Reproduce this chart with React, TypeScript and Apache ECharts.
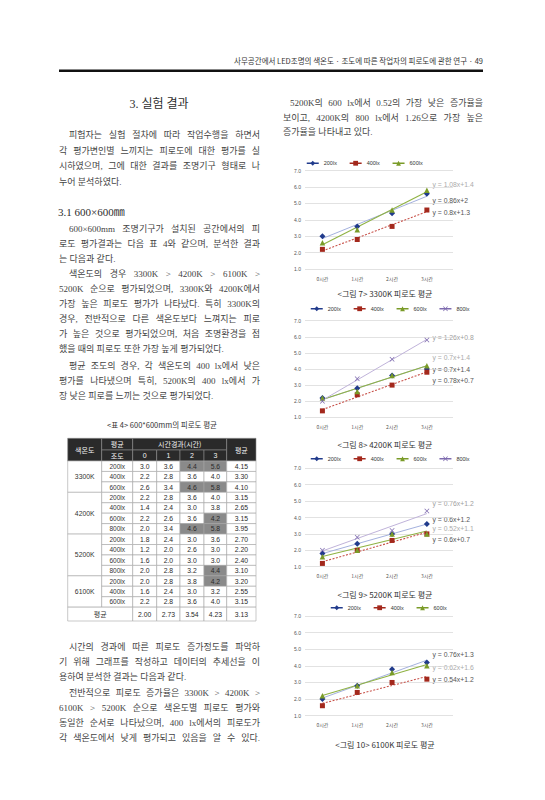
import React, { useEffect, useRef } from "react";
import * as echarts from "echarts";

// ---------------- data ----------------
const hours = ["0시간", "1시간", "2시간", "3시간"];

// <그림 7> 3300K
const k3300Lux = ["200lx", "400lx", "600lx"];
const k3300_200 = [3.0, 3.6, 4.4, 5.6];
const k3300_400 = [2.2, 2.8, 3.6, 4.6];
const k3300_600 = [2.6, 3.4, 4.6, 5.8];
const trend3300Slope = [0.86, 0.8, 1.08];
const trend3300Icpt = [2, 1.3, 1.4];

// <그림 8> 4200K
const k4200Lux = ["200lx", "400lx", "600lx", "800lx"];
const k4200_200 = [2.2, 2.8, 3.6, 4.0];
const k4200_400 = [1.4, 2.4, 3.0, 3.8];
const k4200_600 = [2.2, 2.6, 3.6, 4.2];
const k4200_800 = [2.0, 3.4, 4.6, 5.8];
const trend4200Slope = [0.7, 0.78, 0.7, 1.26];
const trend4200Icpt = [1.4, 0.7, 1.4, 0.8];

// <그림 9> 5200K
const k5200Lux = ["200lx", "400lx", "600lx", "800lx"];
const k5200_200 = [1.8, 2.4, 3.0, 3.6];
const k5200_400 = [1.2, 2.0, 2.6, 3.0];
const k5200_600 = [1.6, 2.0, 3.0, 3.0];
const k5200_800 = [2.0, 2.8, 3.2, 4.4];
const trend5200Slope = [0.6, 0.6, 0.52, 0.76];
const trend5200Icpt = [1.2, 0.7, 1.1, 1.2];

// <그림 10> 6100K
const k6100Lux = ["200lx", "400lx", "600lx"];
const k6100_200 = [2.0, 2.8, 3.8, 4.2];
const k6100_400 = [1.6, 2.4, 3.0, 3.2];
const k6100_600 = [2.2, 2.8, 3.6, 4.0];
const trend6100Slope = [0.76, 0.54, 0.62];
const trend6100Icpt = [1.3, 1.2, 1.6];

const captions = [
  "<그림 7> 3300K 피로도 평균",
  "<그림 8> 4200K 피로도 평균",
  "<그림 9> 5200K 피로도 평균",
  "<그림 10> 6100K 피로도 평균",
];
// order (top to bottom) of the trend equations printed at the right of each chart
const trendLabelOrder = [[2, 0, 1], [3, 2, 0, 1], [3, 0, 2, 1], [0, 2, 1]];

// <표 4>
const colorTemps = ["3300K", "4200K", "5200K", "6100K"];
const tableLux3300 = ["200lx", "400lx", "600lx"];
const tableLux4200 = ["200lx", "400lx", "600lx", "800lx"];
const tableLux5200 = ["200lx", "400lx", "600lx", "800lx"];
const tableLux6100 = ["200lx", "400lx", "600lx"];
const table3300 = [[3.0, 3.6, 4.4, 5.6, 4.15], [2.2, 2.8, 3.6, 4.0, 3.3], [2.6, 3.4, 4.6, 5.8, 4.1]];
const table4200 = [[2.2, 2.8, 3.6, 4.0, 3.15], [1.4, 2.4, 3.0, 3.8, 2.65], [2.2, 2.6, 3.6, 4.2, 3.15], [2.0, 3.4, 4.6, 5.8, 3.95]];
const table5200 = [[1.8, 2.4, 3.0, 3.6, 2.7], [1.2, 2.0, 2.6, 3.0, 2.2], [1.6, 2.0, 3.0, 3.0, 2.4], [2.0, 2.8, 3.2, 4.4, 3.1]];
const table6100 = [[2.0, 2.8, 3.8, 4.2, 3.2], [1.6, 2.4, 3.0, 3.2, 2.55], [2.2, 2.8, 3.6, 4.0, 3.15]];
const tableTotal = [2.0, 2.73, 3.54, 4.23, 3.13];
const tableShaded = ["0-0-2", "0-0-3", "0-2-2", "0-2-3", "1-2-3", "1-3-2", "1-3-3", "2-3-3", "3-0-3"];
const timeHeads = ["0", "1", "2", "3"];
const tableCaption = "<표 4> 600*600mm의 피로도 평균";

// page text
const headerText = "사무공간에서 LED조명의 색온도 · 조도에 따른 작업자의 피로도에 관한 연구 · 49";
const sectionTitle = "3. 실험 결과";
const introLines = [
  "피험자는 실험 절차에 따라 작업수행을 하면서",
  "각 평가변인별 느끼지는 피로도에 대한 평가를 실",
  "시하였으며, 그에 대한 결과를 조명기구 형태로 나",
  "누어 분석하였다.",
];
const subTitle = "3.1 600×600㎜";
const para2Lines = [
  "600×600mm 조명기구가 설치된 공간에서의 피",
  "로도 평가결과는 다음 표 4와 같으며, 분석한 결과",
  "는 다음과 같다.",
];
const para3Lines = [
  "색온도의 경우 3300K > 4200K > 6100K >",
  "5200K 순으로 평가되었으며, 3300K와 4200K에서",
  "가장 높은 피로도 평가가 나타났다. 특히 3300K의",
  "경우, 전반적으로 다른 색온도보다 느껴지는 피로",
  "가 높은 것으로 평가되었으며, 처음 조명환경을 접",
  "했을 때의 피로도 또한 가장 높게 평가되었다.",
];
const para4Lines = [
  "평균 조도의 경우, 각 색온도의 400 lx에서 낮은",
  "평가를 나타냈으며 특히, 5200K의 400 lx에서 가",
  "장 낮은 피로를 느끼는 것으로 평가되었다.",
];
const para5Lines = [
  "시간의 경과에 따른 피로도 증가정도를 파악하",
  "기 위해 그래프를 작성하고 데이터의 추세선을 이",
  "용하여 분석한 결과는 다음과 같다.",
];
const para6Lines = [
  "전반적으로 피로도 증가율은 3300K > 4200K >",
  "6100K > 5200K 순으로 색온도별 피로도 평가와",
  "동일한 순서로 나타났으며, 400 lx에서의 피로도가",
  "각 색온도에서 낮게 평가되고 있음을 알 수 있다.",
];
const rightLines = [
  "5200K의 600 lx에서 0.52의 가장 낮은 증가율을",
  "보이고, 4200K의 800 lx에서 1.26으로 가장 높은",
  "증가율을 나타내고 있다.",
];

// ---------------- styles / layout ----------------
const SERIF = '"Liberation Serif", "Noto Sans CJK KR", serif';
const SANS = '"Liberation Sans", "Noto Sans CJK KR", sans-serif';
const CJK = '"Noto Sans CJK KR", "Liberation Sans", sans-serif';
const BODY = "#444444";

const xSymbol = "path://M1,0L5,4L9,0L10,1L6,5L10,9L9,10L5,6L1,10L0,9L4,5L0,1Z";
const luxStyle: Record<string, any> = {
  "200lx": { color: "#213b8c", symbol: "diamond", size: 6, trend: "#a4b1de", type: "solid", width: 1, label: "#555555" },
  "400lx": { color: "#a3281c", symbol: "rect", size: 5, trend: "#c8524a", type: [2, 1.5], width: 1.1, label: "#555555" },
  "600lx": { color: "#7a9b28", symbol: "triangle", size: 5.5, trend: "#8fb243", type: "solid", width: 1.1, label: "#ababab" },
  "800lx": { color: "#7d6aae", symbol: xSymbol, size: 5, trend: "#c0b3da", type: "solid", width: 1, label: "#a0a0a0" },
};

const chartTops = [170.7, 320.7, 468.3, 616];
const chartHeights = [98.3, 96.6, 98.4, 99.7];
const legendPos = [[306, 160.5], [310, 306], [310, 456], [330, 605]];
const captionY = [293.3, 444, 594, 744];
const trendLabelY = [[184, 200, 212], [337.7, 357.3, 369, 380], [503.3, 519.3, 528.7, 539.3], [654.3, 667.7, 679]];

let measureCtx: CanvasRenderingContext2D | null = null;
function textWidth(s: string, size: number, family: string) {
  if (!measureCtx) measureCtx = document.createElement("canvas").getContext("2d");
  measureCtx!.font = `${size}px ${family}`;
  return measureCtx!.measureText(s).width;
}

function txt(text: string, x: number, y: number, size: number, family: string, fill: string, align = "left", weight: any = "normal") {
  return {
    type: "text",
    x,
    y,
    silent: true,
    style: { text, fontSize: size, fontFamily: family, fill, align, verticalAlign: "middle", fontWeight: weight },
  };
}

function paragraph(lines: string[], x0: number, x1: number, y0: number, lh: number, indent: number, size = 9) {
  const els: any[] = [];
  lines.forEach((line, i) => {
    const y = y0 + i * lh;
    const left = x0 + (i === 0 ? indent : 0);
    const words = line.split(" ");
    const natural = textWidth(line, size, SERIF);
    const isLast = i === lines.length - 1;
    if (words.length < 2 || (isLast && natural < 0.86 * (x1 - left))) {
      els.push(txt(line, left, y, size, SERIF, BODY));
      return;
    }
    const widths = words.map((w) => textWidth(w, size, SERIF));
    const total = widths.reduce((a, b) => a + b, 0);
    const gap = (x1 - left - total) / (words.length - 1);
    let x = left;
    words.forEach((w, j) => {
      els.push(txt(w, x, y, size, SERIF, BODY));
      x += widths[j] + gap;
    });
  });
  return els;
}

function buildTable() {
  const els: any[] = [];
  const colX = [67.7, 101.7, 132.7, 156.7, 180, 204, 226.7, 256];
  const headTop = 438.3, headMid = 450, headBot = 461, rowH = 10.44, footBot = 621;
  const headFill = "#2a2a2a", headStroke = "#8c8c8c", bodyStroke = "#a5a5a5";
  const cell = (x0: number, y0: number, x1: number, y1: number, fill: string, stroke: string) => ({
    type: "rect",
    silent: true,
    shape: { x: x0, y: y0, width: x1 - x0, height: y1 - y0 },
    style: { fill, stroke, lineWidth: 0.6 },
  });
  const center = (s: string, x0: number, y0: number, x1: number, y1: number, fill: string, family: string, size: number) =>
    txt(s, (x0 + x1) / 2, (y0 + y1) / 2, size, family, fill, "center");

  // header
  const hc = "#f2f2f2";
  els.push(cell(colX[0], headTop, colX[1], headBot, headFill, headStroke));
  els.push(center("색온도", colX[0], headTop, colX[1], headBot, hc, CJK, 7));
  els.push(cell(colX[1], headTop, colX[2], headMid, headFill, headStroke));
  els.push(center("평균", colX[1], headTop, colX[2], headMid, hc, CJK, 7));
  els.push(cell(colX[1], headMid, colX[2], headBot, headFill, headStroke));
  els.push(center("조도", colX[1], headMid, colX[2], headBot, hc, CJK, 7));
  els.push(cell(colX[2], headTop, colX[6], headMid, headFill, headStroke));
  els.push(center("시간경과(시간)", colX[2], headTop, colX[6], headMid, hc, CJK, 7));
  timeHeads.forEach((h, j) => {
    els.push(cell(colX[2 + j], headMid, colX[3 + j], headBot, headFill, headStroke));
    els.push(center(h, colX[2 + j], headMid, colX[3 + j], headBot, hc, SANS, 7));
  });
  els.push(cell(colX[6], headTop, colX[7], headBot, headFill, headStroke));
  els.push(center("평균", colX[6], headTop, colX[7], headBot, hc, CJK, 7));

  // body
  const groups = [table3300, table4200, table5200, table6100];
  const groupLux = [tableLux3300, tableLux4200, tableLux5200, tableLux6100];
  let r = 0;
  groups.forEach((rows, g) => {
    const gy0 = headBot + r * rowH;
    const gy1 = gy0 + rows.length * rowH;
    els.push(cell(colX[0], gy0, colX[1], gy1, "#ffffff", bodyStroke));
    els.push(center(colorTemps[g], colX[0], gy0, colX[1], gy1, "#333", SANS, 6.8));
    rows.forEach((vals, k) => {
      const y0 = headBot + (r + k) * rowH;
      const y1 = y0 + rowH;
      els.push(cell(colX[1], y0, colX[2], y1, "#ffffff", bodyStroke));
      els.push(center(groupLux[g][k], colX[1], y0, colX[2], y1, "#333", SANS, 6.5));
      vals.forEach((v, j) => {
        const shaded = tableShaded.indexOf(`${g}-${k}-${j}`) >= 0;
        els.push(cell(colX[2 + j], y0, colX[3 + j], y1, shaded ? "#8a8a8a" : "#ffffff", bodyStroke));
        els.push(center(j < 4 ? v.toFixed(1) : v.toFixed(2), colX[2 + j], y0, colX[3 + j], y1, "#2a2a2a", SANS, 6.8));
      });
    });
    r += rows.length;
  });
  const fy0 = headBot + r * rowH;
  els.push(cell(colX[0], fy0, colX[2], footBot, "#ffffff", bodyStroke));
  els.push(center("평균", colX[0], fy0, colX[2], footBot, "#333", CJK, 7));
  tableTotal.forEach((v, j) => {
    els.push(cell(colX[2 + j], fy0, colX[3 + j], footBot, "#ffffff", bodyStroke));
    els.push(center(v.toFixed(2), colX[2 + j], fy0, colX[3 + j], footBot, "#2a2a2a", SANS, 6.8));
  });
  return els;
}

function buildOption() {
  const chartLux = [k3300Lux, k4200Lux, k5200Lux, k6100Lux];
  const chartValues = [
    [k3300_200, k3300_400, k3300_600],
    [k4200_200, k4200_400, k4200_600, k4200_800],
    [k5200_200, k5200_400, k5200_600, k5200_800],
    [k6100_200, k6100_400, k6100_600],
  ];
  const chartSlopes = [trend3300Slope, trend4200Slope, trend5200Slope, trend6100Slope];
  const chartIcpts = [trend3300Icpt, trend4200Icpt, trend5200Icpt, trend6100Icpt];

  const grid: any[] = [];
  const xAxis: any[] = [];
  const yAxis: any[] = [];
  const series: any[] = [];
  const legend: any[] = [];
  const graphics: any[] = [];

  chartLux.forEach((luxes, c) => {
    grid.push({ left: 305, width: 148, top: chartTops[c], height: chartHeights[c] });
    xAxis.push({
      type: "value",
      gridIndex: c,
      min: -0.5,
      max: 3.75,
      axisLine: { show: false },
      axisTick: { show: false },
      splitLine: { show: false },
      axisLabel: {
        customValues: [0, 1, 2, 3],
        formatter: (v: number) => hours[Math.round(v)],
        fontSize: 5,
        fontFamily: CJK,
        color: "#555",
        margin: 6.5,
      },
    });
    yAxis.push({
      type: "value",
      gridIndex: c,
      min: 1,
      max: 7,
      interval: 1,
      axisLine: { show: false },
      axisTick: { show: false },
      splitLine: { lineStyle: { color: "#d6d6d6", width: 0.7 } },
      axisLabel: { formatter: (v: number) => v.toFixed(1), fontSize: 5, fontFamily: SANS, color: "#555", margin: 4 },
    });
    luxes.forEach((lux, s) => {
      const st = luxStyle[lux];
      const slope = chartSlopes[c][s];
      const icpt = chartIcpts[c][s];
      series.push({
        name: `${lux} 추세선 ${c}`,
        type: "line",
        xAxisIndex: c,
        yAxisIndex: c,
        silent: true,
        showSymbol: false,
        z: 2,
        lineStyle: { color: st.trend, width: st.width, type: st.type },
        data: [
          [0, slope * 1 + icpt],
          [3, slope * 4 + icpt],
        ],
      });
    });
    luxes.forEach((lux, s) => {
      const st = luxStyle[lux];
      series.push({
        name: lux,
        type: "line",
        xAxisIndex: c,
        yAxisIndex: c,
        silent: true,
        z: 4,
        symbol: st.symbol,
        symbolSize: st.size,
        showSymbol: true,
        itemStyle: { color: st.color },
        lineStyle: { color: st.color, width: 1.5, opacity: 0 },
        data: chartValues[c][s].map((v, i) => [i, v]),
      });
    });
    legend.push({
      left: legendPos[c][0],
      top: legendPos[c][1],
      data: luxes,
      selectedMode: false,
      itemWidth: 12,
      itemHeight: 6,
      itemGap: 12,
      padding: 0,
      lineStyle: { opacity: 1, width: 1.5 },
      textStyle: { fontSize: 5.5, fontFamily: SANS, color: "#333" },
    });
    // trend equations
    trendLabelOrder[c].forEach((s, i) => {
      const lux = luxes[s];
      const label = `y = ${chartSlopes[c][s]}x+${chartIcpts[c][s]}`;
      graphics.push(txt(label, 432.5, trendLabelY[c][i], 6.8, SANS, luxStyle[lux].label));
    });
    graphics.push(txt(captions[c], 385, captionY[c], 8, CJK, "#333", "center"));
  });

  // page header
  graphics.push(txt(headerText, 483, 60.7, 7.5, CJK, "#333", "right"));
  graphics.push({ type: "rect", silent: true, shape: { x: 59, y: 69.5, width: 424, height: 2.5 }, style: { fill: "#111" } });

  // left column
  graphics.push(txt(sectionTitle, 159, 104, 12, SERIF, "#2e2e2e", "center"));
  graphics.push(...paragraph(introLines, 59, 260, 135, 15.6, 10));
  graphics.push(txt(subTitle, 58, 212, 11, SERIF, "#2e2e2e"));
  graphics.push(...paragraph(para2Lines, 59, 260, 229, 15, 10));
  graphics.push(...paragraph(para3Lines, 59, 260, 274.3, 15, 10));
  graphics.push(...paragraph(para4Lines, 59, 260, 366, 15, 10));
  graphics.push(txt(tableCaption, 162, 424, 7.5, CJK, "#333", "center"));
  graphics.push(...buildTable());
  graphics.push(...paragraph(para5Lines, 59, 260, 646.7, 15.3, 10));
  graphics.push(...paragraph(para6Lines, 59, 260, 692.7, 15, 10));

  // right column
  graphics.push(...paragraph(rightLines, 283, 483, 103.3, 14.5, 7));

  return {
    animation: false,
    backgroundColor: "#ffffff",
    textStyle: { fontFamily: SANS },
    grid,
    xAxis,
    yAxis,
    series,
    legend,
    graphic: { elements: graphics },
  };
}

export default function App() {
  const ref = useRef<HTMLDivElement>(null);
  useEffect(() => {
    const chart = echarts.init(ref.current!, null, { renderer: "svg", width: 545, height: 800 });
    chart.setOption(buildOption() as any);
    return () => chart.dispose();
  }, []);
  return (
    <div
      ref={ref}
      style={{ position: "fixed", left: 0, top: 0, width: 545, height: 800, background: "#ffffff" }}
    />
  );
}
